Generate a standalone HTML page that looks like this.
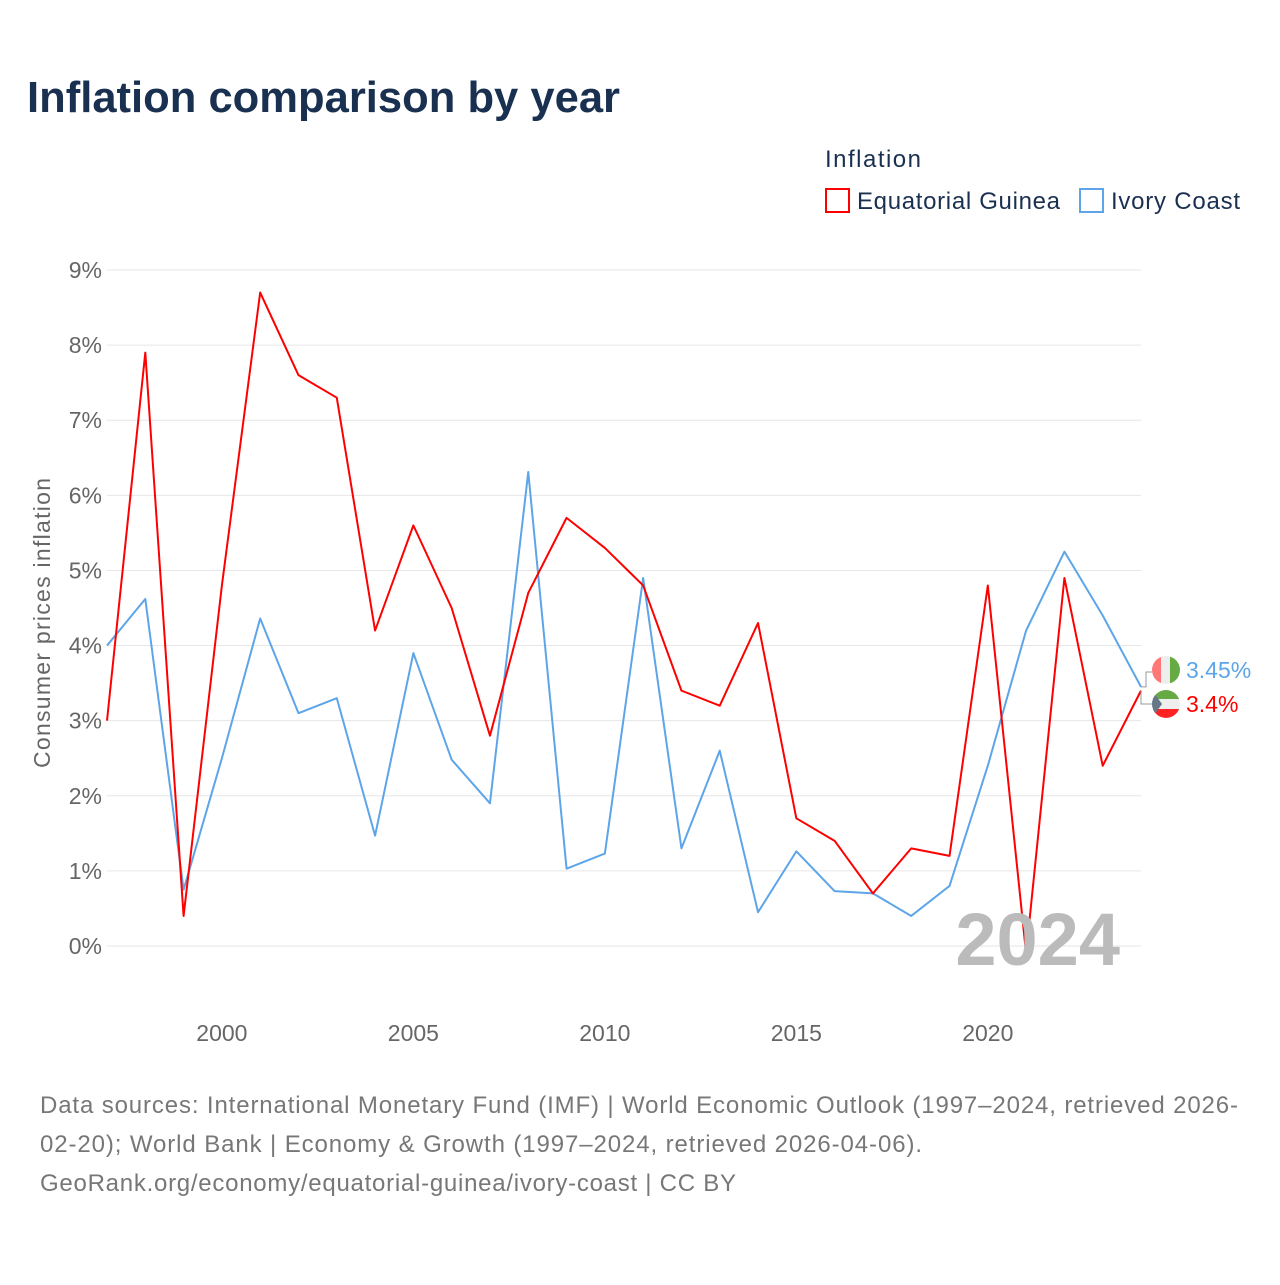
<!DOCTYPE html>
<html><head><meta charset="utf-8"><style>
body{margin:0;background:#fff;font-family:"Liberation Sans",sans-serif;}
svg text{font-family:"Liberation Sans",sans-serif;}
</style></head><body>
<svg id="c" width="1280" height="1280" xmlns="http://www.w3.org/2000/svg">
<rect width="1280" height="1280" fill="#fff"/>
<text x="27" y="112" font-size="44" font-weight="bold" fill="#1a3050" textLength="593" lengthAdjust="spacingAndGlyphs">Inflation comparison by year</text>
<text x="825" y="167" font-size="24" fill="#1a3050" textLength="96">Inflation</text>
<g><rect x="826" y="189" width="23" height="23" fill="none" stroke="#f00" stroke-width="2"/><text x="857" y="209" font-size="24" fill="#1a3050" textLength="203">Equatorial Guinea</text></g>
<g><rect x="1080" y="189" width="23" height="23" fill="none" stroke="#5da5e8" stroke-width="2"/><text x="1111" y="209" font-size="24" fill="#1a3050" textLength="129">Ivory Coast</text></g>
<text transform="translate(50,623) rotate(-90)" text-anchor="middle" font-size="23" fill="#666" textLength="290">Consumer prices inflation</text>
<g id="grid"></g><g id="series"></g>
<text x="1120" y="965" text-anchor="end" font-size="74" font-weight="bold" fill="#bbb">2024</text>
<g><clipPath id="c1"><circle cx="1166" cy="670" r="14"/></clipPath><g clip-path="url(#c1)"><rect x="1152" y="656" width="10" height="28" fill="#f77"/><rect x="1161" y="656" width="10" height="28" fill="#eee"/><rect x="1170" y="656" width="10" height="28" fill="#6a4"/></g></g>
<g><clipPath id="c2"><circle cx="1166" cy="704" r="14"/></clipPath><g clip-path="url(#c2)"><rect x="1152" y="690" width="28" height="9" fill="#6a4"/><rect x="1152" y="699" width="28" height="10" fill="#eee"/><rect x="1152" y="709" width="28" height="9" fill="#f22"/><polygon points="1152,690 1162,704 1152,718" fill="#678"/></g></g>
<text x="1186" y="678" font-size="23" fill="#5da5e8">3.45%</text>
<text x="1186" y="712" font-size="23" fill="#f00">3.4%</text>
<text x="40" y="1113" font-size="24" fill="#777" textLength="1198">Data sources: International Monetary Fund (IMF) | World Economic Outlook (1997–2024, retrieved 2026-</text>
<text x="40" y="1152" font-size="24" fill="#777" textLength="882">02-20); World Bank | Economy &amp; Growth (1997–2024, retrieved 2026-04-06).</text>
<text x="40" y="1191" font-size="24" fill="#777" textLength="696">GeoRank.org/economy/equatorial-guinea/ivory-coast | CC BY</text>
</svg>
<script>
const years=[1997,1998,1999,2000,2001,2002,2003,2004,2005,2006,2007,2008,2009,2010,2011,2012,2013,2014,2015,2016,2017,2018,2019,2020,2021,2022,2023,2024];
const equatorialGuinea=[3.0,7.9,0.4,4.8,8.7,7.6,7.3,4.2,5.6,4.5,2.8,4.7,5.7,5.3,4.8,3.4,3.2,4.3,1.7,1.4,0.7,1.3,1.2,4.8,-0.1,4.9,2.4,3.4];
const ivoryCoast=[4.0,4.62,0.75,2.5,4.36,3.1,3.3,1.47,3.9,2.48,1.9,6.31,1.03,1.23,4.9,1.3,2.6,0.45,1.26,0.73,0.7,0.4,0.8,2.4,4.2,5.25,4.4,3.45];
const yTicks=[0,1,2,3,4,5,6,7,8,9];
const xTicks=[2000,2005,2010,2015,2020];
const NS="http://www.w3.org/2000/svg";
const x=v=>107+(v-1997)*(1141-107)/27;
const y=v=>946-v*(946-270)/9;
const grid=document.getElementById('grid'),ser=document.getElementById('series');
function mk(t,a,p){const e=document.createElementNS(NS,t);for(const k in a)e.setAttribute(k,a[k]);p.appendChild(e);return e;}
yTicks.forEach(t=>{
 const l=mk('line',{x1:107,x2:1141,y1:y(t),y2:y(t),stroke:'#e6e6e6','stroke-width':1},grid);
 
 
 const tx=mk('text',{x:102,y:y(t)+8,'text-anchor':'end','font-size':23,fill:'#666'},grid);tx.textContent=t+'%';
 
 
});
xTicks.forEach(t=>{
 const tx=mk('text',{x:x(t),y:1041,'text-anchor':'middle','font-size':23,fill:'#666'},grid);tx.textContent=t;
 
 
});
function line(d,c,n){
 const p=mk('polyline',{points:d.map((v,i)=>x(years[i])+','+y(v)).join(' '),fill:'none',stroke:c,'stroke-width':2,'stroke-linejoin':'round'},ser);
 
 
}
line(ivoryCoast,'#5da5e8','line-ivory-coast');
line(equatorialGuinea,'#f00','line-equatorial-guinea');
const c1=mk('polyline',{points:`${x(2024)},${y(3.45)} 1146,${y(3.45)} 1146,672 1152,672`,fill:'none',stroke:'#999','stroke-width':1},ser);


const c2=mk('polyline',{points:`${x(2024)},${y(3.4)} 1141,704 1152,704`,fill:'none',stroke:'#999','stroke-width':1},ser);


</script>
</body></html>
